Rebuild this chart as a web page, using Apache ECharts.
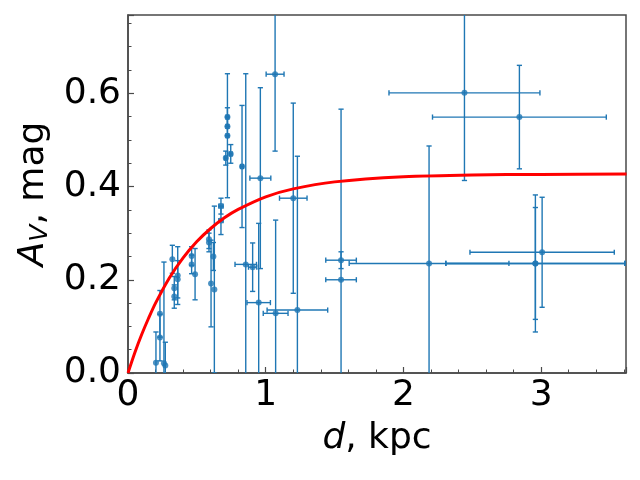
<!DOCTYPE html>
<html>
<head>
<meta charset="utf-8">
<script src="https://cdn.jsdelivr.net/npm/echarts@6/dist/echarts.min.js"></script>
<style>
  html, body { margin: 0; padding: 0; background: #fff; }
  #chart { width: 640px; height: 480px; }
</style>
</head>
<body>
<div id="chart"></div>
<script>
// distance (kpc), its error, extinction A_V (mag), its error
const dist = [0.203, 0.232, 0.232, 0.261, 0.271, 0.322, 0.361, 0.361, 0.336, 0.336,
  0.462, 0.462, 0.487, 0.588, 0.588, 0.620, 0.603, 0.627, 0.675, 0.675,
  0.722, 0.722, 0.722, 0.710, 0.746, 0.828, 0.855, 0.905, 0.961, 0.949,
  1.068, 1.072, 1.200, 1.230, 1.547, 1.547, 2.186, 2.958, 2.958, 3.007,
  2.443, 2.842];
const distErr = [0, 0, 0, 0, 0, 0, 0, 0, 0, 0,
  0, 0, 0, 0, 0, 0, 0, 0, 0.015, 0.015,
  0.01, 0.01, 0.01, 0.01, 0.01, 0.01, 0.078, 0.03, 0.076, 0.085,
  0.065, 0.09, 0.1, 0.22, 0.111, 0.111, 0.58, 0.65, 0.65, 0.524,
  0.548, 0.631];
const av = [0.022, 0.127, 0.076, 0.021, 0.016, 0.244, 0.209, 0.201, 0.182, 0.164,
  0.251, 0.233, 0.212, 0.287, 0.280, 0.250, 0.192, 0.179, 0.358, 0.327,
  0.549, 0.529, 0.509, 0.461, 0.470, 0.443, 0.233, 0.227, 0.418, 0.151,
  0.641, 0.128, 0.375, 0.135, 0.242, 0.200, 0.235, 0.235, 0.235, 0.259,
  0.601, 0.549];
const avErr = [0.066, 0.05, 0.05, 0.217, 0.05, 0.03, 0.062, 0.04, 0.025, 0.025,
  0.02, 0.02, 0.055, 0.02, 0.02, 0.03, 0.093, 0.179, 0.017, 0.03,
  0.02, 0.02, 0.133, 0.015, 0.02, 0.131, 0.409, 0.052, 0.194, 0.17,
  0.165, 0.2, 0.204, 0.33, 0.018, 0.366, 0.252, 0.147, 0.12, 0.118,
  0.188, 0.111];

// red model curve
const curveD = [0, 0.05, 0.1, 0.15, 0.2, 0.3, 0.4, 0.5, 0.6, 0.7, 0.8, 1.0, 1.2, 1.5, 2.0, 2.5, 3.0, 3.62];
const curveA = [0, 0.044, 0.083, 0.118, 0.150, 0.204, 0.247, 0.282, 0.310, 0.333, 0.351, 0.378, 0.395, 0.410, 0.421, 0.425, 0.426, 0.427];

const xTicks = [0, 1, 2, 3];
const yTicks = [0.0, 0.2, 0.4, 0.6];

const FONT = "DejaVu Sans";
const BLUE = "#1f77b4";
const SPINE = "#4a4a4a";

const points = dist.map((d, i) => [d, av[i], distErr[i], avErr[i]]);
const curve = curveD.map((d, i) => [d, curveA[i]]);

const renderErrorBar = (params, api) => {
  const x = api.value(0), y = api.value(1), ex = api.value(2), ey = api.value(3);
  const style = { stroke: BLUE, lineWidth: 1.4 };
  const cap = 2.6;
  const children = [];
  const top = api.coord([x, y + ey]);
  const bot = api.coord([x, y - ey]);
  children.push({ type: "line", shape: { x1: top[0], y1: top[1], x2: bot[0], y2: bot[1] }, style });
  children.push({ type: "line", shape: { x1: top[0] - cap, y1: top[1], x2: top[0] + cap, y2: top[1] }, style });
  children.push({ type: "line", shape: { x1: bot[0] - cap, y1: bot[1], x2: bot[0] + cap, y2: bot[1] }, style });
  if (ex > 0) {
    const l = api.coord([x - ex, y]);
    const r = api.coord([x + ex, y]);
    children.push({ type: "line", shape: { x1: l[0], y1: l[1], x2: r[0], y2: r[1] }, style });
    children.push({ type: "line", shape: { x1: l[0], y1: l[1] - cap, x2: l[0], y2: l[1] + cap }, style });
    children.push({ type: "line", shape: { x1: r[0], y1: r[1] - cap, x2: r[0], y2: r[1] + cap }, style });
  }
  const cs = params.coordSys;
  return {
    type: "group",
    children,
    clipPath: { type: "rect", shape: { x: cs.x, y: cs.y, width: cs.width, height: cs.height } },
  };
};

const chart = echarts.init(document.getElementById("chart"));
chart.setOption({
  animation: false,
  backgroundColor: "#fff",
  grid: {
    left: 128, right: 14, top: 15, bottom: 107,
    containLabel: false, outerBoundsMode: "none",
    show: true, borderColor: SPINE, borderWidth: 1.5, backgroundColor: "transparent",
  },
  xAxis: {
    type: "value", min: 0, max: 3.616, interval: 1,
    axisLine: { show: true, onZero: false, lineStyle: { color: SPINE, width: 1.5 } },
    axisTick: { show: true, inside: true, length: 6, lineStyle: { color: SPINE, width: 1.2 } },
    minorTick: { show: true, splitNumber: 5, length: 3.5, lineStyle: { color: SPINE, width: 1 } },
    splitLine: { show: false },
    axisLabel: {
      fontFamily: FONT, fontSize: 36, color: "#000", margin: 5,
      showMaxLabel: false,
      formatter: (v) => (xTicks.includes(v) ? String(v) : ""),
    },
    name: "{i|d}, kpc",
    nameLocation: "middle",
    nameGap: 48,
    nameTextStyle: {
      fontFamily: FONT, fontSize: 36, color: "#000",
      rich: { i: { fontFamily: FONT, fontSize: 36, fontStyle: "italic", color: "#000" } },
    },
  },
  yAxis: {
    type: "value", min: 0, max: 0.768, interval: 0.2,
    axisLine: { show: true, onZero: false, lineStyle: { color: SPINE, width: 1.5 } },
    axisTick: { show: true, inside: true, length: 6, lineStyle: { color: SPINE, width: 1.2 } },
    minorTick: { show: true, splitNumber: 4, length: 3.5, lineStyle: { color: SPINE, width: 1 } },
    splitLine: { show: false },
    axisLabel: {
      fontFamily: FONT, fontSize: 36, color: "#000", margin: 7,
      showMaxLabel: false,
      formatter: (v) => {
        const t = yTicks.find((k) => Math.abs(k - v) < 1e-6);
        return t === undefined ? "" : t.toFixed(1);
      },
    },
    name: "{i|A}{sub|V}, mag",
    nameLocation: "middle",
    nameGap: 72,
    nameRotate: 90,
    nameTextStyle: {
      fontFamily: FONT, fontSize: 36, color: "#000",
      rich: {
        i: { fontFamily: FONT, fontSize: 36, fontStyle: "italic", color: "#000" },
        sub: { fontFamily: FONT, fontSize: 25, fontStyle: "italic", color: "#000", padding: [14, 0, 0, 0] },
      },
    },
  },
  series: [
    {
      type: "custom",
      renderItem: renderErrorBar,
      data: points,
      encode: { x: 0, y: 1 },
      z: 2,
    },
    {
      type: "scatter",
      data: points,
      encode: { x: 0, y: 1 },
      symbol: "circle",
      symbolSize: 6,
      itemStyle: { color: BLUE },
      z: 3,
    },
    {
      type: "line",
      data: curve,
      smooth: 0.3,
      showSymbol: false,
      lineStyle: { color: "#ff0000", width: 3 },
      z: 4,
    },
  ],
});
</script>
</body>
</html>
